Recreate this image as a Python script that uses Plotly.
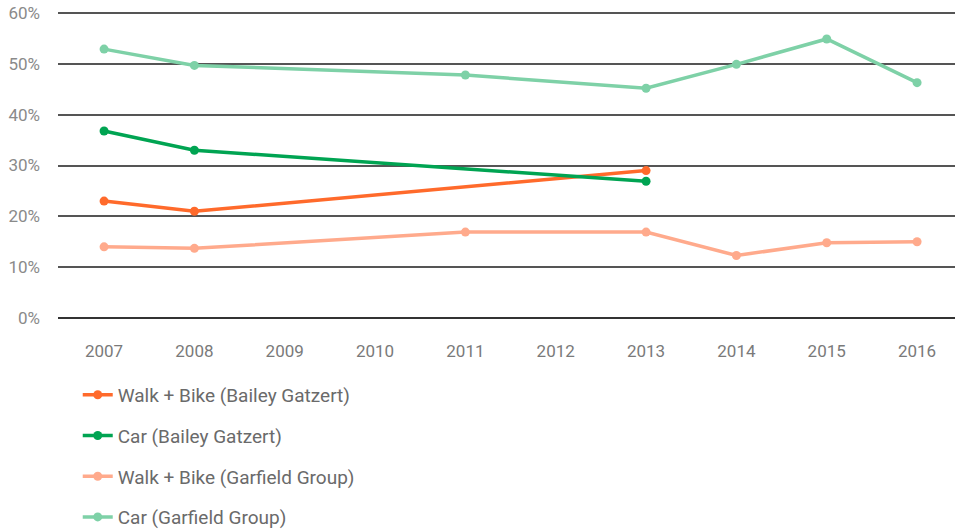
import plotly.graph_objects as go

years = ["2007", "2008", "2009", "2010", "2011", "2012", "2013", "2014", "2015", "2016"]
walk_bike_bailey = [23, 21, None, None, None, None, 29, None, None, None]
car_bailey = [36.8, 33.0, None, None, None, None, 26.9, None, None, None]
walk_bike_garfield = [14, 13.7, None, None, 16.9, None, 16.9, 12.3, 14.8, 15.0]
car_garfield = [52.9, 49.7, None, None, 47.8, None, 45.2, 49.9, 54.9, 46.3]
y_tick_values = [0, 10, 20, 30, 40, 50, 60]
y_tick_labels = ["0%", "10%", "20%", "30%", "40%", "50%", "60%"]

series = [
    ("Walk + Bike (Bailey Gatzert)", walk_bike_bailey, "#FF6A2B"),
    ("Car (Bailey Gatzert)", car_bailey, "#00A452"),
    ("Walk + Bike (Garfield Group)", walk_bike_garfield, "#FFAA8C"),
    ("Car (Garfield Group)", car_garfield, "#7ED1A7"),
]

font_family = "Roboto, sans-serif"

fig = go.Figure()
for i, (name, vals, color) in enumerate(series):
    fig.add_trace(go.Scatter(
        x=years, y=vals, name=name, mode="lines+markers",
        connectgaps=True, legendgroup=f"g{i}",
        line=dict(color=color, width=3.5),
        marker=dict(color=color, size=9),
    ))

fig.update_layout(
    width=955, height=531,
    margin=dict(l=58, r=0, t=11, b=213, autoexpand=False),
    paper_bgcolor="white", plot_bgcolor="white",
    font=dict(family=font_family, size=17, color="#7a7a7a"),
    showlegend=True,
    legend=dict(
        orientation="v", xref="container", yref="container",
        x=0.0814, xanchor="left", y=0.292, yanchor="top",
        tracegroupgap=13, itemwidth=30,
        font=dict(family=font_family, size=19, color="#6a6a6a"),
    ),
    xaxis=dict(
        type="category", range=[-0.51, 9.42], showgrid=False, zeroline=False,
        showline=False, ticks="", automargin=False, ticklabelstandoff=21,
        tickfont=dict(size=17, color="#7a7a7a"),
    ),
    yaxis=dict(
        range=[0, 60.4], tickmode="array", tickvals=y_tick_values,
        ticktext=y_tick_labels,
        showgrid=True,
        gridcolor="#555555", gridwidth=1.8, zeroline=True, zerolinecolor="#333333",
        zerolinewidth=2, showline=False, ticks="", ticklabelstandoff=17,
        ticklabeloverflow="allow",
        automargin=False, tickfont=dict(size=17, color="#8a8a8a"),
    ),
)

fig.write_html(
    "out.html",
    config={"displayModeBar": False},
    post_script="document.body.style.margin='0px';",
)
